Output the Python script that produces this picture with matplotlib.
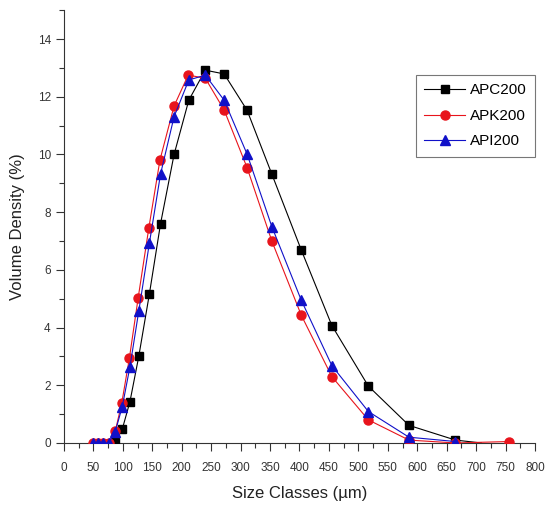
import matplotlib
matplotlib.use("Agg")
import matplotlib.pyplot as plt
from matplotlib.ticker import MultipleLocator

plt.rcParams['font.family'] = ['Liberation Sans', 'DejaVu Sans']

# size classes (um)
apc_x = [87, 99, 112, 127, 145, 164, 187, 212, 240, 272, 311, 353, 403, 455, 517, 586, 665, 709]
apc_y = [0.05, 0.48, 1.43, 3.0, 5.16, 7.6, 10.0, 11.88, 12.92, 12.79, 11.53, 9.32, 6.69, 4.07, 1.97, 0.61, 0.1, 0.0]

apk_x = [50, 58, 67, 76, 87, 98, 111, 126, 144, 163, 187, 211, 240, 272, 311, 353, 403, 455, 517, 586, 665, 756]
apk_y = [0, 0, 0, 0, 0.4, 1.37, 2.93, 5.03, 7.44, 9.81, 11.68, 12.75, 12.64, 11.54, 9.54, 7.0, 4.43, 2.30, 0.80, 0.1, 0.0, 0.05]

api_x = [50, 58, 67, 76, 87, 99, 112, 127, 145, 164, 187, 212, 240, 272, 311, 353, 403, 455, 517, 586, 665]
api_y = [0, 0, 0, 0, 0.39, 1.26, 2.64, 4.57, 6.92, 9.32, 11.31, 12.58, 12.75, 11.88, 10.01, 7.5, 4.95, 2.68, 1.09, 0.2, 0.05]

fig = plt.figure(figsize=(5.47, 5.08), dpi=100)
ax = fig.add_axes([0.117, 0.128, 0.861, 0.852])

ax.plot(apc_x, apc_y, color='black', lw=0.8, marker='s', ms=6.2,
        markevery=list(range(len(apc_x) - 1)), label='APC200', zorder=3)
ax.plot(apk_x, apk_y, color='#e8141c', lw=0.8, marker='o', ms=6.5,
        label='APK200', zorder=4)
ax.plot(api_x, api_y, color='#1010c8', lw=0.8, marker='^', ms=7,
        label='API200', zorder=5)

ax.set_xlim(0, 800)
ax.set_ylim(0, 15)
ax.xaxis.set_major_locator(MultipleLocator(50))
ax.xaxis.set_minor_locator(MultipleLocator(25))
ax.yaxis.set_major_locator(MultipleLocator(2))
ax.yaxis.set_minor_locator(MultipleLocator(1))

for side in ['top', 'right']:
    ax.spines[side].set_visible(False)
for side in ['left', 'bottom']:
    ax.spines[side].set_linewidth(0.8)
    ax.spines[side].set_color('#333333')

ax.tick_params(axis='both', which='major', direction='out', length=6, width=0.8,
               labelsize=8.5, colors='#333333')
ax.tick_params(axis='both', which='minor', direction='out', length=3.5, width=0.8,
               colors='#333333')
ax.tick_params(axis='x', which='major', pad=8)
ax.tick_params(axis='y', which='major', pad=3.5)

ax.set_xlabel('Size Classes (µm)', fontsize=12, labelpad=8, color='#222222')
ax.set_ylabel('Volume Density (%)', fontsize=12, labelpad=9, color='#222222')

leg = ax.legend(loc='upper right', bbox_to_anchor=(1.0, 0.85), fontsize=11,
                frameon=True, fancybox=False, borderaxespad=0, borderpad=0.55,
                handlelength=2.7, handletextpad=0.3, labelspacing=0.75)
leg.get_frame().set_edgecolor('#555555')
leg.get_frame().set_linewidth(0.8)

fig.savefig('out.png', dpi=100)
